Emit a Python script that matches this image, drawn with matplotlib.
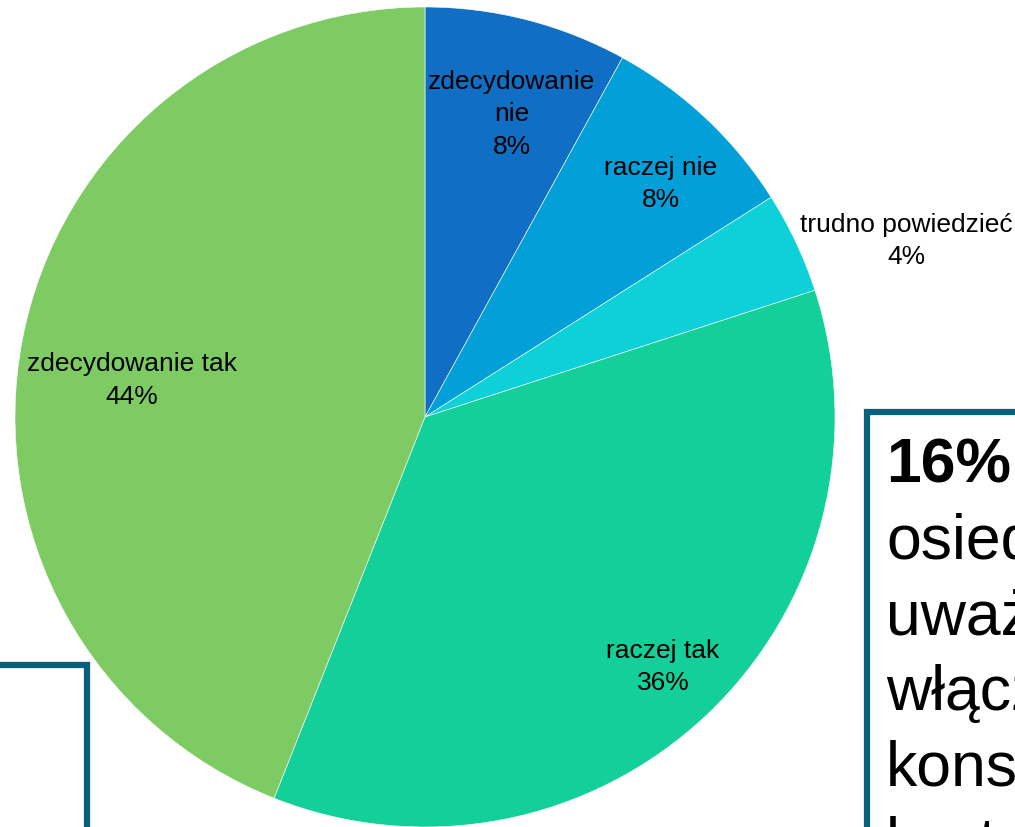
import numpy as np
import matplotlib
matplotlib.use('Agg')
import matplotlib.pyplot as plt
from matplotlib.patches import Rectangle

plt.rcParams['font.family'] = ['Liberation Sans', 'DejaVu Sans']

# === Data ===
labels = ['zdecydowanie\nnie', 'raczej nie', 'trudno powiedzieć', 'raczej tak', 'zdecydowanie tak']
values = [8, 8, 4, 36, 44]
colors = ['#106ec4', '#029fd8', '#0dd0d8', '#13d09b', '#7ecb64']

# label placement: (radius factor, angle shift in deg)
label_pos = [(0.77, 1.5), (0.81, 2.0), (1.25, 5.0), (0.84, -0.5), (0.72, -3.5)]

box_head = '16%'
box_body = ['osiedla', 'uważa, że', 'włączenie', 'konsultacji', 'kształtowanie']

# === Figure: 1015x828 px, axes in pixel units (y up) ===
W, H = 1015, 828
fig = plt.figure(figsize=(W / 100, H / 100), dpi=100)
ax = fig.add_axes([0, 0, 1, 1])

cx, cy, r = 425, H - 418, 410

wedges, _ = ax.pie(values, colors=colors, startangle=90, counterclock=False,
                   center=(cx, cy), radius=r, frame=True,
                   wedgeprops=dict(edgecolor='white', linewidth=0.4))
ax.set_xlim(0, W)
ax.set_ylim(0, H)
ax.axis('off')

cum = np.cumsum([0] + values)
for i, lab in enumerate(labels):
    mid = 90 - (cum[i] + values[i] / 2) / 100 * 360  # clockwise from top
    rf, shift = label_pos[i]
    ang = np.deg2rad(mid - shift)
    x = cx + rf * r * np.cos(ang)
    y = cy + rf * r * np.sin(ang)
    ax.text(x, y, f'{lab}\n{values[i]}%', ha='center', va='center',
            fontsize=19, linespacing=1.45, color='black')

# text boxes
border = '#08607a'
ax.add_patch(Rectangle((867, -50), 300, H - 413 + 50, facecolor='white',
                       edgecolor=border, linewidth=4.5, zorder=3))
ax.add_patch(Rectangle((-100, -50), 187, H - 666 + 50, facecolor='white',
                       edgecolor=border, linewidth=4.5, zorder=3))

line_step = 75.8
ax.text(886, H - 483, box_head, ha='left', va='baseline', fontsize=45,
        fontweight='bold', zorder=4)
for i, line in enumerate(box_body):
    ax.text(886, H - 483 - line_step * (i + 1), line, ha='left', va='baseline',
            fontsize=45, zorder=4)

fig.savefig('out.png', dpi=100)
